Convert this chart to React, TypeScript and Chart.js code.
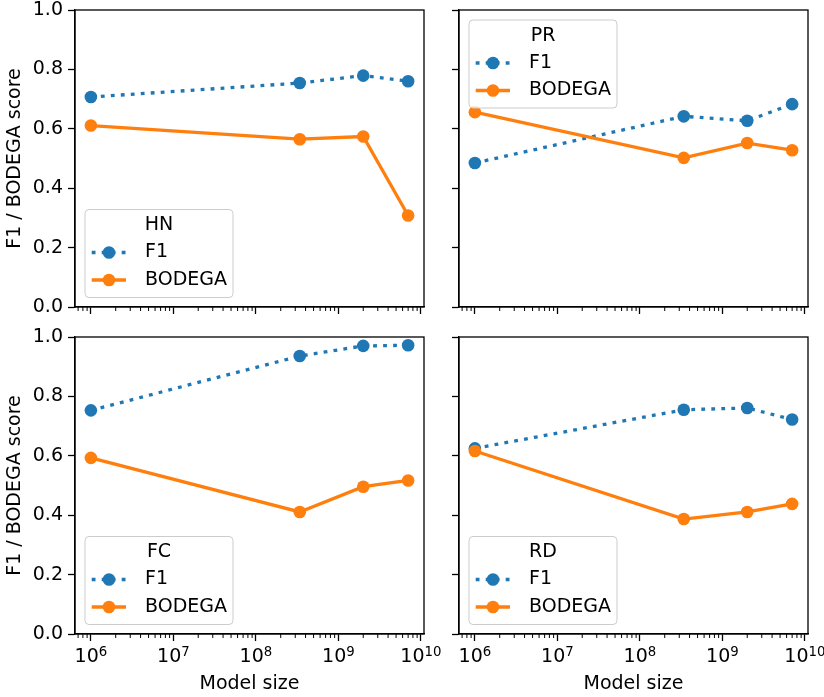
import React, { useEffect, useRef } from 'react';
import { Chart, registerables } from 'chart.js';

Chart.register(...registerables);

// ---- data ----
const MODEL_SIZES = [1e6, 3.4e8, 2e9, 7e9];

const HN_F1 = [0.707, 0.754, 0.779, 0.76];
const HN_BODEGA = [0.611, 0.565, 0.574, 0.308];
const PR_F1 = [0.485, 0.642, 0.627, 0.683];
const PR_BODEGA = [0.656, 0.502, 0.552, 0.528];
const FC_F1 = [0.753, 0.936, 0.97, 0.972];
const FC_BODEGA = [0.593, 0.411, 0.496, 0.517];
const RD_F1 = [0.625, 0.755, 0.761, 0.722];
const RD_BODEGA = [0.616, 0.387, 0.411, 0.438];

const SERIES_NAMES = ['F1', 'BODEGA'];
const X_MAJOR_TICKS = [1e6, 1e7, 1e8, 1e9, 1e10];
const X_TICK_BASE = '10';
const X_TICK_EXPONENTS = ['6', '7', '8', '9', '10'];
const Y_TICKS = [0, 0.2, 0.4, 0.6, 0.8, 1.0];
const Y_TICK_LABELS = ['0.0', '0.2', '0.4', '0.6', '0.8', '1.0'];
const X_MIN = 6.42e5;
const X_MAX = 1.09e10;
const X_TITLE = 'Model size';
const Y_TITLE = 'F1 / BODEGA score';

const PANELS = [
  { name: 'HN', f1: HN_F1, bodega: HN_BODEGA, row: 0, col: 0, legend: 'bottom' },
  { name: 'PR', f1: PR_F1, bodega: PR_BODEGA, row: 0, col: 1, legend: 'top' },
  { name: 'FC', f1: FC_F1, bodega: FC_BODEGA, row: 1, col: 0, legend: 'bottom' },
  { name: 'RD', f1: RD_F1, bodega: RD_BODEGA, row: 1, col: 1, legend: 'bottom' },
];

// ---- styles / layout ----
const W = 824;
const H = 697;
const FONT = 'DejaVu Sans';
const FS = 19;
const SUP_FS = 13.3;
const BLUE = '#1f77b4';
const ORANGE = '#ff7f0e';
const LW = 3.3;
const DOT = [3.8, 6.2];
const PR_RADIUS = 6.3;
const COL_LEFT = [75, 459];
const COL_RIGHT = [424, 808];
const ROW_TOP = [10, 337];
const ROW_BOTTOM = [307, 634];
const Y_AXIS_W = 71;

const minorTicks: number[] = [];
for (let e = 5; e <= 9; e++) for (let k = 2; k <= 9; k++) minorTicks.push(k * Math.pow(10, e));

const framePlugin = {
  id: 'frame',
  afterDraw(chart: any, _args: any, opts: any) {
    const { ctx, chartArea: a } = chart;
    const xs = chart.scales.x;
    ctx.save();
    ctx.strokeStyle = '#000';
    ctx.lineWidth = 1;
    ctx.beginPath();
    for (const v of minorTicks) {
      const px = xs.getPixelForValue(v);
      if (px < a.left || px > a.right) continue;
      ctx.moveTo(px, a.bottom);
      ctx.lineTo(px, a.bottom + 4);
    }
    ctx.stroke();
    ctx.lineWidth = 1.3;
    ctx.strokeRect(a.left, a.top, a.right - a.left, a.bottom - a.top);

    if (opts.showX) {
      ctx.fillStyle = '#000';
      ctx.textBaseline = 'alphabetic';
      ctx.textAlign = 'left';
      const baseY = a.bottom + 28.3;
      X_MAJOR_TICKS.forEach((v, i) => {
        const px = xs.getPixelForValue(v);
        ctx.font = `${FS}px "${FONT}"`;
        const wb = ctx.measureText(X_TICK_BASE).width;
        ctx.font = `${SUP_FS}px "${FONT}"`;
        const we = ctx.measureText(X_TICK_EXPONENTS[i]).width;
        const x0 = px - (wb + we) / 2;
        ctx.font = `${FS}px "${FONT}"`;
        ctx.fillText(X_TICK_BASE, x0, baseY);
        ctx.font = `${SUP_FS}px "${FONT}"`;
        ctx.fillText(X_TICK_EXPONENTS[i], x0 + wb, baseY - 6);
      });
    }
    ctx.restore();
  },
};

const legendPlugin = {
  id: 'panelLegend',
  afterDatasetsDraw(chart: any, _args: any, opts: any) {
    const { ctx, chartArea: a } = chart;
    const bw = 148;
    const bh = 88;
    const left = a.left + 10;
    const top = opts.where === 'top' ? a.top + 10 : a.bottom - 9.5 - bh;
    const r = 4;
    ctx.save();
    ctx.beginPath();
    ctx.moveTo(left + r, top);
    ctx.arcTo(left + bw, top, left + bw, top + bh, r);
    ctx.arcTo(left + bw, top + bh, left, top + bh, r);
    ctx.arcTo(left, top + bh, left, top, r);
    ctx.arcTo(left, top, left + bw, top, r);
    ctx.closePath();
    ctx.fillStyle = 'rgba(255,255,255,0.8)';
    ctx.fill();
    ctx.strokeStyle = '#cccccc';
    ctx.lineWidth = 1;
    ctx.stroke();

    ctx.font = `${FS}px "${FONT}"`;
    ctx.fillStyle = '#000';
    ctx.textBaseline = 'middle';
    ctx.textAlign = 'center';
    ctx.fillText(opts.title, left + 74, top + 16);

    chart.data.datasets.forEach((ds: any, i: number) => {
      const y = top + 43 + i * 27.5;
      ctx.save();
      ctx.strokeStyle = ds.borderColor;
      ctx.lineWidth = LW;
      ctx.lineCap = 'butt';
      ctx.setLineDash(ds.borderDash || []);
      ctx.beginPath();
      ctx.moveTo(left + 6.7, y);
      ctx.lineTo(left + 41, y);
      ctx.stroke();
      ctx.setLineDash([]);
      ctx.fillStyle = ds.borderColor;
      ctx.beginPath();
      ctx.arc(left + 24, y, PR_RADIUS, 0, Math.PI * 2);
      ctx.fill();
      ctx.restore();
      ctx.fillStyle = '#000';
      ctx.textAlign = 'left';
      ctx.fillText(ds.label, left + 60, y);
    });
    ctx.restore();
  },
};

function Panel({ p }: { p: typeof PANELS[number] }) {
  const ref = useRef<HTMLCanvasElement | null>(null);
  useEffect(() => {
    if (!ref.current) return;
    const showX = p.row === 1;
    const showY = p.col === 0;
    const chartLeft = COL_LEFT[p.col];
    const chartRight = COL_RIGHT[p.col];
    const chartTop = ROW_TOP[p.row];
    const chartBottom = ROW_BOTTOM[p.row];
    const padBottom = 2;
    const xAxisH = H - padBottom - chartBottom;
    const font = { family: FONT, size: FS };
    const chart = new Chart(ref.current, {
      type: 'line',
      data: {
        datasets: [
          {
            label: SERIES_NAMES[0],
            data: MODEL_SIZES.map((x, i) => ({ x, y: p.f1[i] })),
            borderColor: BLUE,
            backgroundColor: BLUE,
            borderWidth: LW,
            borderDash: DOT,
            borderCapStyle: 'butt',
            pointRadius: PR_RADIUS,
            pointHoverRadius: PR_RADIUS,
            pointBorderWidth: 0,
            pointBackgroundColor: BLUE,
            tension: 0,
            order: 2,
          },
          {
            label: SERIES_NAMES[1],
            data: MODEL_SIZES.map((x, i) => ({ x, y: p.bodega[i] })),
            borderColor: ORANGE,
            backgroundColor: ORANGE,
            borderWidth: LW,
            pointRadius: PR_RADIUS,
            pointHoverRadius: PR_RADIUS,
            pointBorderWidth: 0,
            pointBackgroundColor: ORANGE,
            tension: 0,
            order: 1,
          },
        ],
      } as any,
      options: {
        animation: false,
        responsive: false,
        devicePixelRatio: 1,
        events: [],
        layout: {
          padding: {
            left: chartLeft - Y_AXIS_W,
            right: W - chartRight,
            top: chartTop,
            bottom: padBottom,
          },
        },
        plugins: {
          legend: { display: false },
          tooltip: { enabled: false },
          panelLegend: { title: p.name, where: p.legend },
          frame: { showX },
        } as any,
        scales: {
          x: {
            type: 'logarithmic',
            min: X_MIN,
            max: X_MAX,
            afterBuildTicks: (s: any) => {
              s.ticks = X_MAJOR_TICKS.map((value) => ({ value, major: true }));
            },
            afterFit: (s: any) => {
              s.height = xAxisH;
              s.paddingLeft = 0;
              s.paddingRight = 0;
            },
            ticks: {
              autoSkip: false,
              maxRotation: 0,
              minRotation: 0,
              color: '#000',
              font,
              padding: 2,
              callback: () => '',
            },
            grid: {
              drawOnChartArea: false,
              drawTicks: true,
              tickLength: 7,
              tickWidth: 1.3,
              tickColor: '#000',
            },
            border: { display: true, color: '#000', width: 1.3 },
            title: {
              display: showX,
              text: X_TITLE,
              color: '#000',
              font,
              padding: 0,
            },
          },
          y: {
            type: 'linear',
            min: 0,
            max: 1,
            afterBuildTicks: (s: any) => {
              s.ticks = Y_TICKS.map((value) => ({ value }));
            },
            afterFit: (s: any) => {
              s.width = Y_AXIS_W;
              s.paddingTop = 0;
              s.paddingBottom = 0;
            },
            ticks: {
              color: '#000',
              font,
              padding: 5,
              callback: (_v: any, i: number) => (showY ? Y_TICK_LABELS[i] : ''),
            },
            grid: {
              drawOnChartArea: false,
              drawTicks: true,
              tickLength: 7,
              tickWidth: 1.3,
              tickColor: '#000',
            },
            border: { display: true, color: '#000', width: 1.3 },
            title: {
              display: showY,
              text: Y_TITLE,
              color: '#000',
              font,
              padding: 0,
            },
          },
        } as any,
      },
      plugins: [framePlugin, legendPlugin],
    } as any);
    return () => chart.destroy();
  }, [p]);
  return (
    <canvas
      ref={ref}
      width={W}
      height={H}
      style={{ position: 'absolute', left: 0, top: 0, width: W, height: H }}
    />
  );
}

export default function App() {
  return (
    <div style={{ position: 'fixed', left: 0, top: 0, width: W, height: H, background: '#fff' }}>
      {PANELS.map((p) => (
        <Panel key={p.name} p={p} />
      ))}
    </div>
  );
}
